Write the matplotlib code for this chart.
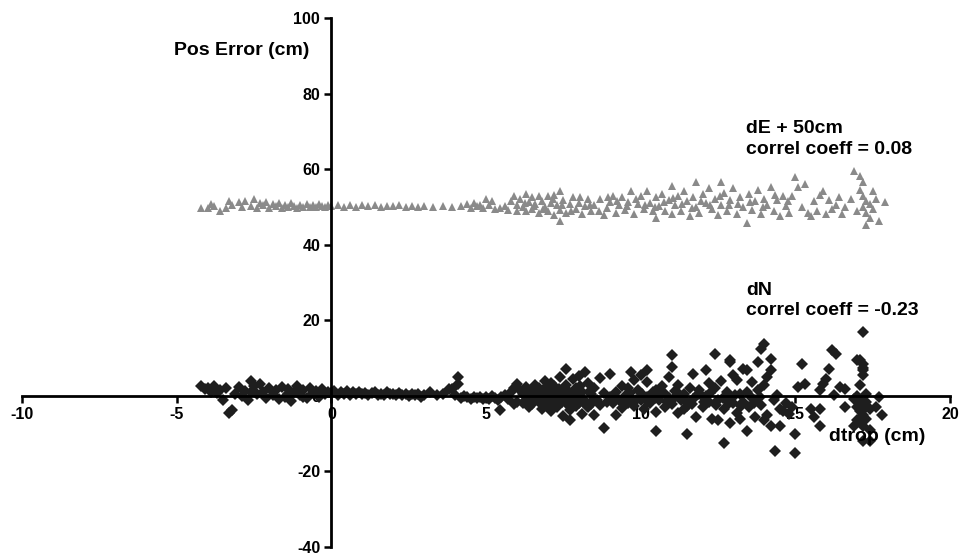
import numpy as np
import matplotlib
matplotlib.use("Agg")
import matplotlib.pyplot as plt

# dN (cm) vs dtrop (cm)
dn_pts = [
    (-4.2, 2.5), (-4.1, 1.8), (-4.0, 2.2), (-3.9, 1.0), (-3.8, 2.6), (-3.7, 0.8), (-3.6, 1.5),
    (-3.5, -1.0), (-3.4, 2.0), (-3.3, -4.5), (-3.2, -3.8), (-3.1, 0.6), (-3.0, 2.3), (-2.9, 0.0),
    (-2.8, 1.4), (-2.7, -1.2), (-2.6, 4.0), (-2.5, 2.6), (-2.4, 0.5), (-2.3, 3.2), (-2.2, 1.1),
    (-2.1, -0.6), (-2.0, 2.0), (-1.9, 0.3), (-1.8, 1.6), (-1.7, -0.9), (-1.6, 2.3), (-1.5, -0.2),
    (-1.4, 1.8), (-1.3, -1.3), (-1.2, 0.9), (-1.1, 2.5), (-1.0, 0.2), (-0.9, 1.5), (-0.8, -0.6),
    (-0.7, 2.1), (-0.6, 0.7), (-0.5, 1.2), (-0.4, -0.4), (-0.3, 1.7), (-0.2, 0.4), (-0.1, 1.0),
    (-2.6, 1.0), (-1.4, 0.5), (-0.9, -0.2),
    (0.0, 0.8), (0.1, 1.2), (0.2, 0.3), (0.3, 1.0), (0.4, 0.6), (0.5, 1.3), (0.6, 0.2), (0.7, 0.9),
    (0.8, 0.5), (0.9, 1.1), (1.0, 0.4), (1.1, 0.8), (1.2, 0.1), (1.3, 0.7), (1.4, 1.0), (1.5, 0.3),
    (1.6, 0.6), (1.7, 0.2), (1.8, 0.9), (1.9, 0.4), (2.0, 0.5), (2.1, 0.1), (2.2, 0.7), (2.3, 0.3),
    (2.4, 0.6), (2.5, 0.0), (2.6, 0.4), (2.7, 0.2), (2.8, 0.5), (2.9, -0.2), (3.0, 0.3), (3.2, 1.0),
    (3.4, 0.1), (3.6, 0.6), (3.8, 1.8),
    (3.9, 1.8), (4.0, 0.2), (4.1, 5.0), (4.1, 3.2), (4.2, -0.5), (4.3, 0.0), (4.4, -0.3), (4.5, -0.8),
    (4.6, -0.2), (4.7, -0.6), (4.8, -0.4), (4.9, -0.9), (5.0, -0.3), (5.1, -0.7), (5.2, -0.1),
    (5.3, -0.5), (5.4, -1.0), (5.45, -3.7), (5.5, -0.4), (5.6, 0.2), (5.7, -0.8), (5.8, 1.0),
    (5.9, 2.0), (6.0, 3.1), (6.0, -1.5), (5.9, -2.2),
    (6.1, 1.5), (6.2, -2.0), (6.2, 0.5), (6.3, 2.3), (6.3, -1.0), (6.4, -3.0), (6.4, 0.0), (6.5, 1.2),
    (6.5, -2.2), (6.6, 3.0), (6.6, -0.5), (6.7, -1.5), (6.7, 2.0), (6.8, -3.5), (6.8, 0.8), (6.9, 4.0),
    (6.9, -1.0), (7.0, 1.8), (7.0, -2.5), (7.0, 0.2), (7.1, 3.5), (7.1, -4.0), (7.2, -1.8), (7.2, 2.6),
    (7.3, 0.5), (7.3, -3.0), (7.4, 5.0), (7.4, -0.8), (7.5, 1.5), (7.5, -5.2), (7.6, 7.1), (7.6, -2.0),
    (7.6, 3.0), (7.7, -6.3), (7.7, 0.0), (7.7, -3.8), (7.8, 4.5), (7.8, -1.2), (7.9, 2.0), (7.9, -2.8),
    (8.0, 5.2), (8.0, -0.5), (8.1, -4.7), (8.1, 1.0), (8.2, 6.3), (8.2, -1.8), (8.3, 3.5), (8.3, -3.0),
    (8.4, 0.5), (8.5, -5.0), (8.5, 2.0), (8.6, -1.0), (8.7, 4.7), (8.7, -2.5), (8.8, -8.6), (8.8, 0.8),
    (8.9, -1.5), (9.0, 5.8), (9.0, -0.3), (8.4, -2.2), (7.5, 0.8), (7.2, -0.3), (6.9, -0.2), (7.8, -0.3),
    (8.0, -2.0),
    (6.45, -1.4), (6.55, 0.6), (6.75, -0.4), (6.85, 1.6), (6.95, -2.0), (7.05, -1.2), (7.15, 1.0),
    (7.25, -2.6), (7.35, 1.9), (7.45, -1.6), (7.55, -0.6), (7.65, 1.2), (7.75, -2.4), (7.85, 0.6),
    (7.95, -1.0), (8.05, 2.6), (8.15, -0.8), (8.25, -2.6), (8.35, 1.4), (8.45, -1.2),
    (9.15, -0.6), (9.45, -1.6), (9.65, 0.8), (9.85, -1.0), (10.05, 0.4), (10.25, -1.6), (10.45, -0.6),
    (10.65, 0.2), (10.85, -1.6), (11.05, -0.8), (11.25, 0.6), (11.45, -1.4), (11.65, -2.2),
    (11.85, 0.4), (12.05, -1.6), (12.25, 0.8), (12.45, -2.4), (12.65, -0.6), (12.85, -2.0),
    (13.05, 0.2), (13.25, -2.8), (13.45, 1.0), (13.65, -1.8), (13.85, -0.2),
    (9.1, -2.0), (9.2, -5.0), (9.2, 1.0), (9.3, -1.0), (9.4, 2.5), (9.4, -3.2), (9.5, 0.0), (9.6, -1.8),
    (9.7, 6.3), (9.7, -0.5), (9.8, 4.2), (9.8, -2.6), (9.9, 1.5), (10.0, -1.0), (10.0, 5.5), (10.1, -3.5),
    (10.2, 6.8), (10.2, 3.7), (10.2, -0.2), (10.3, -2.0), (10.4, 1.0), (10.5, 1.6), (10.5, -9.4),
    (10.5, -4.2), (10.6, -1.2), (10.7, 2.5), (10.8, -3.0), (10.9, 5.0), (10.9, -0.5), (11.0, 10.8),
    (11.0, 7.6), (11.0, -2.2), (11.1, 1.2), (11.2, -4.5), (11.2, 3.0), (11.3, -1.0), (11.4, 0.5),
    (11.5, -10.0), (11.5, -2.8), (11.6, 2.0), (11.7, 5.8), (11.7, -0.8), (11.8, -5.5), (11.9, 1.5),
    (12.0, -3.0), (12.1, 6.8), (12.1, 0.0), (12.2, 3.5), (12.2, -1.5), (12.3, -6.0), (12.4, 11.0),
    (12.4, 2.0), (12.5, -6.3), (12.5, -1.0), (12.6, 4.0), (12.7, -12.6), (12.7, -3.5), (12.8, 1.0),
    (12.9, 8.9), (12.9, -7.3), (12.9, -0.5), (9.6, 2.0), (10.8, 0.6), (11.4, -3.6), (12.0, -0.4),
    (13.0, 5.5), (13.0, -2.0), (12.9, 9.4), (13.1, 4.2), (13.1, -4.5), (13.2, 0.5), (13.3, 7.1),
    (13.3, -1.5), (13.45, 6.8), (13.45, -9.4), (13.5, -3.0), (13.6, 3.7), (13.6, -0.5), (13.7, -5.5),
    (13.8, 8.9), (13.8, 1.5), (13.9, 12.3), (13.9, -2.5), (14.0, 13.6), (14.0, 2.9), (14.0, -6.5),
    (14.1, 5.0), (14.2, 9.7), (14.2, 6.8), (14.2, -8.1), (14.3, -1.0), (14.35, -14.7), (14.4, 0.3),
    (14.5, -8.1), (14.5, -3.5), (14.6, -4.0), (14.7, -2.0), (14.8, -4.7), (14.9, -2.9), (15.0, -10.0),
    (15.0, -15.2), (15.1, 2.4), (15.2, 8.4), (15.3, 3.1), (15.5, -3.4), (15.6, -5.5), (15.8, -3.4),
    (15.8, -8.1), (15.8, 1.6), (15.9, 3.1), (16.0, 4.5), (16.1, 7.1), (16.2, 12.1), (16.3, 11.0),
    (16.25, 0.3), (16.45, 2.4), (16.6, 1.8), (16.6, -2.9), (16.9, -0.8), (16.9, -8.1), (13.2, -6.0),
    (13.7, -1.0), (14.1, -5.0),
    (17.2, 16.8), (17.0, 9.4), (17.1, 9.4), (17.2, 8.4), (17.2, 7.3), (17.2, 6.8), (17.2, 5.5),
    (17.1, 2.9), (17.0, 0.0), (17.1, -1.0), (17.2, -2.0), (17.3, -3.0), (17.1, -4.0), (17.2, -5.0),
    (17.3, -6.0), (17.1, -7.0), (17.2, -8.0), (17.3, -1.5), (17.4, -3.5), (17.0, -6.5), (17.3, 0.5),
    (17.2, -12.0), (17.4, -12.0), (17.7, -0.3), (17.8, -5.0), (17.6, -2.9), (17.4, -9.0), (17.0, -3.0),
]

# dE + 50 cm vs dtrop (cm)
de_pts = [
    (-4.2, 49.8), (-4.0, 49.6), (-3.9, 50.9), (-3.8, 50.2), (-3.6, 48.8), (-3.4, 49.6), (-3.3, 51.7),
    (-3.2, 50.5), (-3.0, 51.2), (-2.9, 50.0), (-2.8, 51.5), (-2.6, 50.3), (-2.5, 52.0), (-2.4, 49.8),
    (-2.3, 51.0), (-2.2, 50.4), (-2.1, 51.3), (-2.0, 49.6), (-1.9, 50.8), (-1.8, 50.2), (-1.7, 51.0),
    (-1.6, 49.8), (-1.5, 50.6), (-1.4, 50.0), (-1.3, 51.0), (-1.2, 50.3), (-1.1, 49.7), (-1.0, 50.6),
    (-0.9, 50.1), (-0.8, 50.8), (-0.7, 49.9), (-0.6, 50.5), (-0.5, 50.0), (-0.4, 50.7), (-0.3, 50.2),
    (-0.2, 49.9), (-0.1, 50.5),
    (0.0, 50.2), (0.2, 50.6), (0.4, 50.1), (0.6, 50.4), (0.8, 50.0), (1.0, 50.5), (1.2, 50.2),
    (1.4, 50.4), (1.6, 50.1), (1.8, 50.3), (2.0, 50.2), (2.2, 50.4), (2.4, 50.0), (2.6, 50.3),
    (2.8, 50.1), (3.0, 50.2), (3.3, 50.0), (3.6, 50.3), (3.9, 49.9),
    (4.2, 50.2), (4.4, 50.8), (4.5, 49.6), (4.6, 51.0), (4.7, 50.2), (4.8, 50.5), (4.9, 49.8),
    (5.0, 52.2), (5.1, 50.4), (5.2, 51.7), (5.3, 49.5), (5.45, 49.6), (5.6, 50.3), (5.7, 49.2),
    (5.8, 51.5), (5.9, 53.0), (6.0, 50.5), (6.0, 49.0),
    (6.1, 52.0), (6.2, 50.0), (6.3, 53.5), (6.3, 48.8), (6.4, 51.2), (6.5, 52.5), (6.5, 49.5),
    (6.6, 50.8), (6.7, 53.0), (6.7, 48.5), (6.8, 51.5), (6.9, 50.0), (7.0, 52.8), (7.0, 49.0),
    (7.1, 51.0), (7.2, 47.8), (7.2, 53.2), (7.3, 50.5), (7.4, 54.1), (7.4, 46.2), (7.4, 49.2),
    (7.5, 51.8), (7.6, 48.5), (7.7, 50.8), (7.8, 52.5), (7.9, 49.5), (8.0, 51.0), (8.1, 48.2),
    (8.2, 50.2), (8.3, 52.0), (8.4, 49.0), (8.5, 50.5), (8.7, 52.2), (8.8, 47.8), (8.9, 49.8),
    (9.0, 51.4), (9.1, 53.0), (9.2, 48.5), (9.3, 50.5), (9.4, 52.5), (9.5, 49.2), (9.6, 51.2),
    (9.7, 54.1), (9.8, 48.0), (9.9, 50.8), (10.0, 52.8), (10.1, 49.5), (10.2, 54.1), (10.3, 51.0),
    (10.4, 48.8), (10.5, 47.0), (10.5, 52.5), (10.6, 50.2), (10.7, 53.5), (10.8, 49.0), (10.9, 51.8),
    (11.0, 55.6), (11.0, 48.2),
    (6.25, 51.0), (6.55, 50.2), (6.85, 49.4), (7.15, 52.0), (7.45, 50.4), (7.75, 49.0), (8.05, 52.6),
    (8.35, 50.6), (8.65, 48.8), (8.95, 52.6), (9.25, 51.6), (9.55, 50.2), (9.85, 52.0), (10.15, 50.6),
    (10.45, 50.0), (10.75, 51.4), (11.05, 52.4), (11.35, 50.8), (11.65, 49.6), (11.95, 51.6),
    (12.25, 50.6), (12.55, 52.8), (12.85, 50.4), (13.15, 50.8), (13.55, 51.2), (13.95, 50.0),
    (14.35, 53.2), (14.75, 51.6),
    (11.1, 50.5), (11.2, 53.0), (11.3, 49.0), (11.4, 54.1), (11.5, 51.5), (11.6, 47.5), (11.7, 52.5),
    (11.8, 56.7), (11.8, 50.0), (11.9, 48.5), (12.0, 53.5), (12.1, 51.0), (12.2, 55.0), (12.3, 49.5),
    (12.4, 52.0), (12.5, 47.8), (12.6, 56.7), (12.6, 50.5), (12.7, 53.8), (12.8, 49.0), (12.9, 51.8),
    (13.0, 55.0), (13.1, 48.2), (13.2, 52.5), (13.3, 50.0), (13.45, 45.7), (13.5, 53.5), (13.6, 49.2),
    (13.7, 51.5), (13.8, 54.5), (13.9, 48.0), (14.0, 52.0), (14.1, 50.5), (14.2, 55.2), (14.3, 49.0),
    (14.4, 51.8), (14.5, 47.5), (14.6, 53.0), (14.7, 50.2), (14.8, 48.5), (14.9, 52.8), (15.0, 58.0),
    (15.1, 55.4), (15.2, 50.0), (15.3, 56.2), (15.4, 48.5), (15.5, 47.5), (15.6, 51.5), (15.7, 49.0),
    (15.8, 53.2), (15.9, 54.1), (16.0, 48.2), (16.1, 51.8), (16.2, 49.5), (16.3, 50.4), (16.4, 52.5),
    (16.5, 48.0), (16.6, 50.1), (16.8, 52.2), (16.9, 59.6), (17.1, 58.3), (17.2, 56.7), (17.1, 54.5),
    (17.2, 53.0), (17.3, 51.5), (17.2, 50.0), (17.3, 48.5), (17.4, 47.0), (17.3, 45.1), (17.5, 54.1),
    (17.5, 49.5), (17.6, 52.0), (17.7, 46.2), (17.9, 51.4), (17.4, 50.8), (17.0, 48.8),
]

x_ticks = [-10, -5, 0, 5, 10, 15, 20]
y_ticks = [-40, -20, 0, 20, 40, 60, 80, 100]

FONT = "Liberation Sans"
plt.rcParams["axes.unicode_minus"] = False


def main():
    dn = np.array(dn_pts)
    de = np.array(de_pts)

    fig = plt.figure(figsize=(9.6, 5.58), dpi=100)
    ax = fig.add_axes([22 / 960, 1 - 547 / 558, 928 / 960, 529 / 558])

    ax.plot(de[:, 0], de[:, 1], "^", color="#8a8a8a", ms=5.5, mew=0)
    ax.plot(dn[:, 0], dn[:, 1], "D", color="#1e1e1e", ms=5.8, mew=0)

    ax.set_xlim(-10, 20)
    ax.set_ylim(-40, 100)
    ax.spines["left"].set_position(("data", 0))
    ax.spines["bottom"].set_position(("data", 0))
    ax.spines["top"].set_visible(False)
    ax.spines["right"].set_visible(False)
    for s in ("left", "bottom"):
        ax.spines[s].set_linewidth(2)

    ax.set_xticks(x_ticks)
    ax.set_yticks(y_ticks)
    ax.tick_params(direction="out", length=5, width=1.8, pad=3)
    for lab in ax.get_xticklabels() + ax.get_yticklabels():
        lab.set_fontfamily(FONT)
        lab.set_fontweight("bold")
        lab.set_fontsize(11.5)

    tkw = dict(fontfamily=FONT, fontweight="bold", fontsize=14)
    ax.text(-0.7, 91.5, "Pos Error (cm)", ha="right", va="center", **tkw)
    ax.text(13.4, 68, "dE + 50cm\ncorrel coeff = 0.08", ha="left", va="center",
            linespacing=1.25, **tkw)
    ax.text(13.4, 25.2, "dN\ncorrel coeff = -0.23", ha="left", va="center",
            linespacing=1.25, **tkw)
    ax.text(16.1, -10.8, "dtrop (cm)", ha="left", va="center", **tkw)

    fig.savefig("out.png", dpi=100)


if __name__ == '__main__':
    main()
